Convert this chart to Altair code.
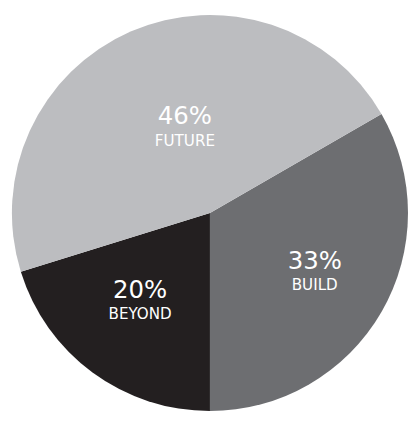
import math
import altair as alt
import pandas as pd

categories = ["BUILD", "BEYOND", "FUTURE"]
values = [33, 20, 46]
labels = ["33%", "20%", "46%"]
colors = ["#6d6e71", "#231f20", "#bcbdc0"]

df = pd.DataFrame({"category": categories, "value": values, "label": labels,
                   "order": list(range(len(categories)))})

start = math.pi / 3
theta_scale = alt.Scale(domain=[0, sum(values)], range=[start, start + 2 * math.pi])
color_scale = alt.Scale(domain=categories, range=colors)

base = alt.Chart(df).transform_window(
    cum="sum(value)", sort=[alt.SortField("order")]
).transform_calculate(
    st="datum.cum - datum.value", mid="datum.cum - datum.value / 2"
)

arcs = base.mark_arc(outerRadius=203, stroke=None).encode(
    theta=alt.Theta("st:Q", scale=theta_scale),
    theta2="cum:Q",
    color=alt.Color("category:N", scale=color_scale, legend=None),
)

def text_layer(cat, radius, dx):
    sub = base.transform_filter(alt.datum.category == cat)
    pct = sub.mark_text(radius=radius, dx=dx, dy=-13, font="DejaVu Sans", fontSize=25,
                        color="white").encode(
        theta=alt.Theta("mid:Q", scale=theta_scale), text="label:N")
    name = sub.mark_text(radius=radius, dx=dx, dy=12, font="DejaVu Sans", fontSize=15.5,
                         color="white").encode(
        theta=alt.Theta("mid:Q", scale=theta_scale), text="category:N")
    return pct + name

chart = alt.layer(
    arcs,
    text_layer("FUTURE", 94, 12),
    text_layer("BUILD", 124, 0),
    text_layer("BEYOND", 114, -4),
).properties(width=404, height=410,
             padding={"left": 4, "top": 0, "right": 0, "bottom": 0},
             background="white"
).configure_view(stroke=None)

chart.save("out.html", embed_options={"renderer": "svg", "actions": False})
